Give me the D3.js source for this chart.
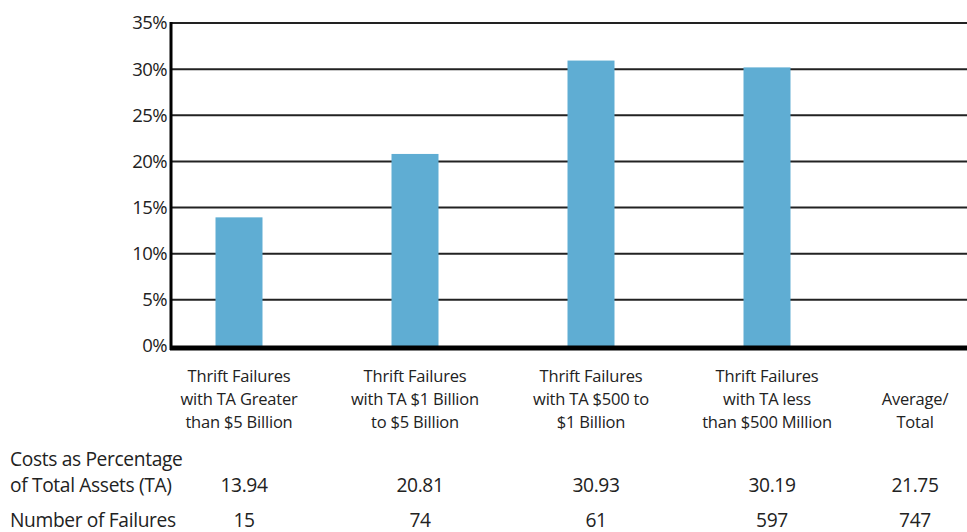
<!DOCTYPE html>
<html>
<head>
<meta charset="utf-8">
<script src="https://cdn.jsdelivr.net/npm/d3@7"></script>
<style>
  html, body { margin: 0; padding: 0; background: #fff; }
  svg { display: block; font-family: "Open Sans", Lato, sans-serif; }
</style>
</head>
<body>
<svg id="chart" width="967" height="532"></svg>
<script>
// Thrift failure resolution costs by asset size
const categories = [
  ["Thrift Failures", "with TA Greater", "than $5 Billion"],
  ["Thrift Failures", "with TA $1 Billion", "to $5 Billion"],
  ["Thrift Failures", "with TA $500 to", "$1 Billion"],
  ["Thrift Failures", "with TA less", "than $500 Million"]
];
const costPct = [13.94, 20.81, 30.93, 30.19];
const failures = [15, 74, 61, 597];
const summaryLabel = ["Average/", "Total"];
const summaryCost = 21.75;
const summaryFailures = 747;
const rowLabels = [["Costs as Percentage", "of Total Assets (TA)"], ["Number of Failures"]];
const yTicks = [0, 5, 10, 15, 20, 25, 30, 35];

const svg = d3.select("#chart");
const W = 967;
const plot = { left: 171, right: W, top: 23, bottom: 346 };
const textColor = "#222";

const x = d3.scaleBand()
  .domain(d3.range(categories.length))
  .range([151, 855])
  .paddingInner(0.733)
  .paddingOuter(0.3665);

const y = d3.scaleLinear().domain([0, 35]).range([plot.bottom, plot.top]);

// horizontal gridlines
svg.append("g")
  .selectAll("line")
  .data(yTicks.filter(d => d > 0))
  .join("line")
  .attr("x1", plot.left).attr("x2", plot.right)
  .attr("y1", d => y(d)).attr("y2", d => y(d))
  .attr("stroke", "#222").attr("stroke-width", 2);

// y tick labels
svg.append("g")
  .selectAll("text")
  .data(yTicks)
  .join("text")
  .attr("x", plot.left - 4)
  .attr("y", d => y(d))
  .attr("dy", "0.35em")
  .attr("text-anchor", "end")
  .attr("font-size", 18.5)
  .attr("letter-spacing", -0.6)
  .attr("fill", textColor)
  .text(d => d + "%");

// bars
svg.append("g")
  .selectAll("rect")
  .data(costPct)
  .join("rect")
  .attr("x", (d, i) => x(i))
  .attr("width", x.bandwidth())
  .attr("y", d => y(d))
  .attr("height", d => y(0) - y(d))
  .attr("fill", "#5fadd3");

// axis lines
svg.append("line")
  .attr("x1", plot.left).attr("x2", plot.left)
  .attr("y1", plot.top - 1).attr("y2", plot.bottom + 4)
  .attr("stroke", "#000").attr("stroke-width", 3);
svg.append("line")
  .attr("x1", plot.left - 1).attr("x2", plot.right)
  .attr("y1", plot.bottom + 2).attr("y2", plot.bottom + 2)
  .attr("stroke", "#000").attr("stroke-width", 5);

const summaryX = 915;

// category labels
const catG = svg.append("g")
  .attr("font-size", 16.5)
  .attr("letter-spacing", -0.2)
  .attr("fill", textColor)
  .attr("text-anchor", "middle");
categories.forEach((lines, i) => {
  const t = catG.append("text").attr("x", x(i) + x.bandwidth() / 2).attr("y", 382);
  lines.forEach((ln, k) => t.append("tspan")
    .attr("x", x(i) + x.bandwidth() / 2)
    .attr("dy", k === 0 ? 0 : 23)
    .text(ln));
});
{
  const t = catG.append("text").attr("x", summaryX).attr("y", 405);
  summaryLabel.forEach((ln, k) => t.append("tspan")
    .attr("x", summaryX).attr("dy", k === 0 ? 0 : 23).text(ln));
}

// table rows
const rowG = svg.append("g").attr("font-size", 19.2).attr("letter-spacing", -0.35).attr("fill", textColor);
rowG.append("text").attr("x", 10).attr("y", 466).text(rowLabels[0][0]);
rowG.append("text").attr("x", 10).attr("y", 492).text(rowLabels[0][1]);
rowG.append("text").attr("x", 10).attr("y", 527).text(rowLabels[1][0]);

const colX = i => x(i) + x.bandwidth() / 2 + 5;
rowG.append("g").attr("text-anchor", "middle")
  .selectAll("text")
  .data(costPct.concat([summaryCost]))
  .join("text")
  .attr("x", (d, i) => i < costPct.length ? colX(i) : summaryX)
  .attr("y", 492)
  .text(d => d.toFixed(2));
rowG.append("g").attr("text-anchor", "middle")
  .selectAll("text")
  .data(failures.concat([summaryFailures]))
  .join("text")
  .attr("x", (d, i) => i < failures.length ? colX(i) : summaryX)
  .attr("y", 527)
  .text(d => d);
</script>
</body>
</html>
